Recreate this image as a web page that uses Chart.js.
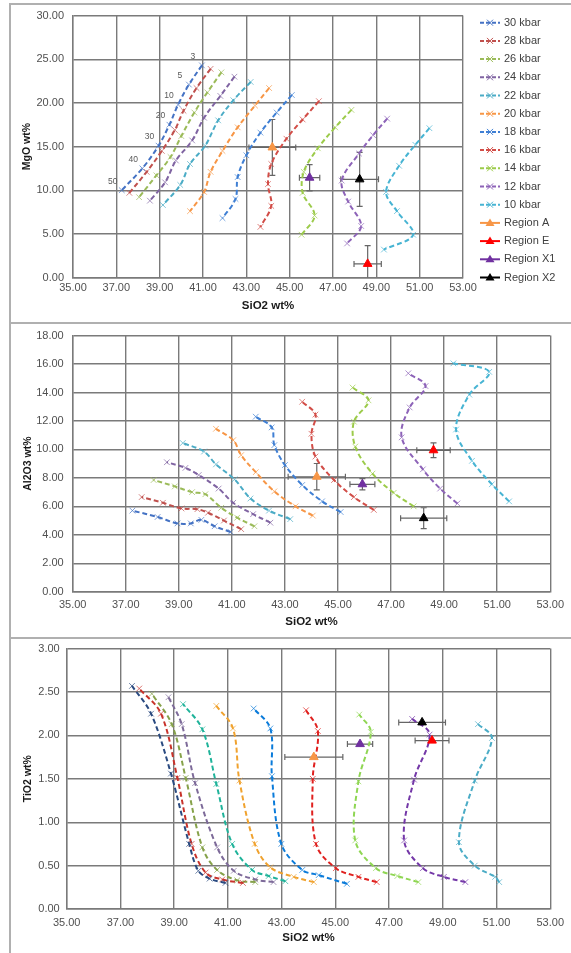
<!DOCTYPE html>
<html lang="en">
<head>
<meta charset="utf-8">
<title>Melt compositions vs SiO2</title>
<style>
  html, body { margin: 0; padding: 0; background: #fff; }
  #wrap { position: relative; width: 571px; height: 953px; overflow: hidden; }
  #wrap canvas { position: absolute; left: 0; }
  .rule { position: absolute; background: #b0b0b0; }
</style>
</head>
<body>
<div id="wrap">
  <canvas id="mgoChart" width="571" height="320" style="top:0px"></canvas>
  <canvas id="alChart" width="571" height="315" style="top:320px"></canvas>
  <canvas id="tiChart" width="571" height="318" style="top:635px"></canvas>
  <div class="rule" style="left:9px;top:3px;width:2px;height:950px"></div>
  <div class="rule" style="left:9px;top:3px;width:562px;height:2px"></div>
  <div class="rule" style="left:9px;top:322px;width:562px;height:2px"></div>
  <div class="rule" style="left:9px;top:637px;width:562px;height:2px"></div>
</div>

<script src="https://cdn.jsdelivr.net/npm/chart.js"></script>
<script>
// ---- data ----
const pressures = ['30 kbar', '28 kbar', '26 kbar', '24 kbar', '22 kbar', '20 kbar',
                   '18 kbar', '16 kbar', '14 kbar', '12 kbar', '10 kbar'];
const meltLabels = ['3', '5', '10', '20', '30', '40', '50'];   // % melting, 30 kbar curve

// SiO2 for the MgO and Al2O3 panels (points ordered 3% -> 50% melting)
const sio2 = [
  [40.95, 40.35, 39.85, 39.45, 38.95, 38.2, 37.25],
  [41.35, 40.7, 40.1, 39.7, 39.1, 38.4, 37.6],
  [41.85, 41.2, 40.6, 40.0, 39.5, 38.85, 38.05],
  [42.45, 41.8, 41.05, 40.5, 39.75, 39.25, 38.55],
  [43.2, 42.4, 41.7, 41.1, 40.4, 39.95, 39.15],
  [44.05, 43.4, 42.6, 41.9, 41.35, 41.05, 40.4],
  [45.1, 44.4, 43.65, 43.0, 42.6, 42.5, 41.9],
  [46.35, 45.6, 44.85, 44.15, 44.0, 44.15, 43.65],
  [47.85, 47.1, 46.3, 45.65, 45.6, 46.15, 45.55],
  [49.5, 48.85, 48.2, 47.4, 47.7, 48.3, 47.65],
  [51.45, 50.8, 50.05, 49.45, 49.95, 50.7, 49.35]
];
const mgo = [
  [24.3, 22.1, 19.8, 17.5, 15.1, 12.5, 10.0],
  [23.9, 21.7, 19.1, 16.9, 14.5, 12.1, 9.7],
  [23.5, 21.2, 18.9, 16.2, 13.8, 11.7, 9.2],
  [23.0, 20.8, 18.3, 15.7, 13.4, 10.9, 8.8],
  [22.4, 20.3, 18.0, 15.1, 13.0, 10.6, 8.3],
  [21.7, 19.7, 17.2, 14.5, 12.1, 9.8, 7.6],
  [20.9, 18.9, 16.6, 14.0, 11.5, 9.0, 6.8],
  [20.2, 18.1, 15.9, 13.0, 10.7, 8.2, 5.8],
  [19.2, 17.2, 14.8, 12.1, 9.7, 7.1, 4.9],
  [18.2, 16.3, 14.2, 11.1, 8.7, 5.9, 3.9],
  [17.1, 15.2, 12.8, 9.8, 7.6, 4.9, 3.2]
];
const al2o3 = [
  [4.2, 4.6, 5.05, 4.8, 4.8, 5.25, 5.7],
  [4.4, 5.0, 5.55, 5.8, 5.85, 6.25, 6.65],
  [4.6, 5.2, 5.9, 6.85, 7.0, 7.4, 7.85],
  [4.85, 5.45, 6.25, 7.25, 8.2, 8.7, 9.1],
  [5.1, 5.7, 6.55, 7.9, 8.95, 9.85, 10.45],
  [5.35, 6.0, 7.05, 8.4, 9.6, 10.65, 11.45],
  [5.6, 6.35, 7.5, 8.9, 10.3, 11.55, 12.3],
  [5.75, 6.65, 7.85, 9.5, 11.1, 12.45, 13.35],
  [6.0, 6.95, 8.3, 10.2, 11.95, 13.45, 14.35],
  [6.2, 7.25, 8.6, 10.85, 12.95, 14.45, 15.35],
  [6.35, 7.55, 9.2, 11.4, 13.85, 15.45, 16.05]
];
// the TiO2 panel was plotted with slightly different SiO2 values
const sio2Ti = [
  [40.91, 40.32, 39.9, 39.56, 38.88, 38.14, 37.43],
  [41.56, 40.79, 40.17, 39.65, 39.12, 38.51, 37.7],
  [42.02, 41.35, 40.6, 40.05, 39.43, 38.91, 38.17],
  [42.7, 42.02, 41.22, 40.6, 39.78, 39.28, 38.79],
  [43.14, 42.52, 41.9, 41.16, 40.57, 40.05, 39.33],
  [44.2, 43.45, 42.58, 42.0, 41.43, 41.19, 40.57],
  [45.43, 44.38, 43.77, 42.99, 42.64, 42.58, 41.96],
  [46.54, 45.86, 45.02, 44.28, 44.16, 44.35, 43.91],
  [48.09, 47.31, 46.51, 45.74, 45.86, 46.32, 45.89],
  [49.84, 49.04, 48.26, 47.56, 47.93, 48.51, 47.86],
  [51.1, 50.95, 50.19, 49.6, 50.19, 50.83, 50.31]
];
const tio2 = [
  [0.30, 0.35, 0.44, 0.75, 1.56, 2.25, 2.57],
  [0.30, 0.34, 0.42, 0.75, 1.51, 2.25, 2.54],
  [0.31, 0.33, 0.45, 0.71, 1.51, 2.13, 2.48],
  [0.31, 0.34, 0.44, 0.71, 1.45, 2.13, 2.44],
  [0.32, 0.38, 0.45, 0.75, 1.44, 2.07, 2.36],
  [0.31, 0.37, 0.48, 0.75, 1.48, 2.08, 2.34],
  [0.29, 0.39, 0.45, 0.75, 1.53, 2.08, 2.31],
  [0.31, 0.37, 0.47, 0.75, 1.50, 2.05, 2.29],
  [0.31, 0.38, 0.47, 0.79, 1.47, 2.04, 2.24],
  [0.31, 0.37, 0.47, 0.79, 1.49, 2.01, 2.19],
  [0.31, 0.37, 0.50, 0.77, 1.48, 1.97, 2.13]
];

const regionNames = ['Region A', 'Region E', 'Region X1', 'Region X2'];
const regionSiO2 = [44.2, 48.6, 45.92, 48.23];
const regionSiO2Err = [1.08, 0.63, 0.47, 0.87];
const regionMgO = [14.9, 1.56, 11.43, 11.24];
const regionMgOErr = [3.2, 2.1, 1.5, 3.1];
const regionAl2O3 = [8.08, 9.94, 7.55, 5.17];
const regionAl2O3Err = [0.93, 0.52, 0.4, 0.73];
const regionTiO2 = [1.75, 1.94, 1.9, 2.15];
const regionTiO2Err = [0, 0, 0, 0];

// ---- colours ----
const curveColors = ['#4472C4', '#C0504D', '#9BBB59', '#8064A2', '#4BACC6', '#F79646',
                     '#3F7FD4', '#D24D47', '#9CCB4A', '#8D63B8', '#47B4D3'];
const curveColorsTi = ['#2A4A80', '#C8332B', '#86A24A', '#7D6A99', '#1FB39A', '#F0A22E',
                       '#0A7BDA', '#E0211F', '#8FD653', '#7438A8', '#4BACC6'];
const regionColors = ['#F79646', '#FF0000', '#7030A0', '#000000'];

const FONT = '"Liberation Sans", Arial, sans-serif';
Chart.defaults.font.family = FONT;
const gridColor = '#7a7a7a';

function curveSets(xs, ys, colors) {
  return pressures.map((p, i) => ({
    label: p,
    data: xs[i].map((x, j) => ({ x: x, y: ys[i][j] })),
    showLine: true,
    borderColor: colors[i],
    backgroundColor: colors[i],
    borderWidth: 2,
    borderDash: [5, 3],
    tension: 0.35,
    pointStyle: 'crossRot',
    pointRadius: 4,
    pointBorderWidth: 1,
    pointBorderColor: colors[i] + 'B0',
    order: 1
  }));
}

function regionSets(ys, yErr) {
  return regionNames.map((r, i) => ({
    label: r,
    data: [{ x: regionSiO2[i], y: ys[i] }],
    errX: regionSiO2Err[i],
    errY: yErr[i],
    showLine: false,
    pointStyle: 'triangle',
    pointRadius: 5,
    borderWidth: 1,
    borderColor: regionColors[i],
    backgroundColor: regionColors[i],
    order: 0
  }));
}

// error bars behind the region markers
const errorBars = {
  id: 'errorBars',
  beforeDatasetsDraw(chart) {
    const { ctx, chartArea: a, scales: { x, y } } = chart;
    ctx.save();
    ctx.beginPath();
    ctx.rect(a.left, a.top, a.width, a.height);
    ctx.clip();
    ctx.strokeStyle = '#666666';
    ctx.lineWidth = 1.2;
    chart.data.datasets.forEach(ds => {
      if (ds.errX === undefined) return;
      const p = ds.data[0];
      const cx = x.getPixelForValue(p.x), cy = y.getPixelForValue(p.y);
      ctx.beginPath();
      if (ds.errX) {
        const l = x.getPixelForValue(p.x - ds.errX), r = x.getPixelForValue(p.x + ds.errX);
        ctx.moveTo(l, cy); ctx.lineTo(r, cy);
        ctx.moveTo(l, cy - 3); ctx.lineTo(l, cy + 3);
        ctx.moveTo(r, cy - 3); ctx.lineTo(r, cy + 3);
      }
      if (ds.errY) {
        const t = y.getPixelForValue(p.y + ds.errY), b = y.getPixelForValue(p.y - ds.errY);
        ctx.moveTo(cx, t); ctx.lineTo(cx, b);
        ctx.moveTo(cx - 3, t); ctx.lineTo(cx + 3, t);
        ctx.moveTo(cx - 3, b); ctx.lineTo(cx + 3, b);
      }
      ctx.stroke();
    });
    ctx.restore();
  }
};

// % melting labels beside the 30 kbar curve
const meltText = {
  id: 'meltText',
  afterDatasetsDraw(chart) {
    const ctx = chart.ctx;
    const meta = chart.getDatasetMeta(0);
    ctx.save();
    ctx.font = '8.5px ' + FONT;
    ctx.fillStyle = '#595959';
    ctx.textAlign = 'center';
    ctx.textBaseline = 'middle';
    meta.data.forEach((pt, j) => ctx.fillText(meltLabels[j], pt.x - 9, pt.y - 9));
    ctx.restore();
  }
};

// legend at the right of the top panel
const sideLegend = {
  id: 'sideLegend',
  afterDraw(chart) {
    const ctx = chart.ctx;
    const x0 = chart.chartArea.right + 17, y0 = 22.7, step = 18.2;
    ctx.save();
    ctx.font = '11px ' + FONT;
    ctx.textBaseline = 'middle';
    chart.data.datasets.forEach((ds, i) => {
      const yy = y0 + i * step, mx = x0 + 10;
      ctx.strokeStyle = ds.borderColor;
      ctx.fillStyle = ds.backgroundColor;
      ctx.lineWidth = 2;
      ctx.setLineDash(ds.showLine ? [4, 2] : []);
      ctx.beginPath(); ctx.moveTo(x0, yy); ctx.lineTo(x0 + 20, yy); ctx.stroke();
      ctx.setLineDash([]);
      ctx.beginPath();
      if (ds.pointStyle === 'triangle') {
        ctx.moveTo(mx, yy - 4.5); ctx.lineTo(mx + 4.5, yy + 3); ctx.lineTo(mx - 4.5, yy + 3);
        ctx.closePath(); ctx.fill();
      } else {
        ctx.lineWidth = 1;
        ctx.moveTo(mx - 3, yy - 3); ctx.lineTo(mx + 3, yy + 3);
        ctx.moveTo(mx + 3, yy - 3); ctx.lineTo(mx - 3, yy + 3);
        ctx.stroke();
      }
      ctx.fillStyle = '#404040';
      ctx.fillText(ds.label, x0 + 24, yy);
    });
    ctx.restore();
  }
};

function panelOptions(cfg) {
  const yLh = cfg.yTitleSize * 1.2, xLh = cfg.xTitleSize * 1.2;
  const padLeft = cfg.yTitleX - yLh / 2;
  const xAxisBottom = cfg.xTitleY + xLh / 2;
  const tickFont = { size: 11 };
  return {
    responsive: false,
    animation: false,
    layout: {
      padding: { left: padLeft, top: cfg.area.top, right: cfg.width - cfg.area.right, bottom: cfg.height - xAxisBottom }
    },
    plugins: { legend: { display: false }, tooltip: { enabled: false } },
    scales: {
      x: {
        type: 'linear', min: 35, max: 53,
        ticks: { stepSize: 2, autoSkip: false, maxRotation: 0, padding: cfg.xTickPad,
                 font: tickFont, color: '#505050', callback: v => v.toFixed(2) },
        grid: { color: gridColor, lineWidth: 1.4, drawTicks: false },
        border: { color: gridColor, width: 1.4 },
        title: { display: true, text: 'SiO2 wt%', color: '#1a1a1a', padding: 0,
                 font: { size: cfg.xTitleSize, weight: 'bold' } },
        afterFit: s => { s.height = xAxisBottom - cfg.area.bottom; }
      },
      y: {
        type: 'linear', min: cfg.yMin, max: cfg.yMax,
        ticks: { stepSize: cfg.yStep, autoSkip: false, padding: cfg.yTickPad,
                 font: tickFont, color: '#505050', callback: v => v.toFixed(2) },
        grid: { color: gridColor, lineWidth: 1.4, drawTicks: false },
        border: { color: gridColor, width: 1.4 },
        title: { display: true, text: cfg.yTitle, color: '#1a1a1a', padding: 0,
                 font: { size: cfg.yTitleSize, weight: 'bold' } },
        afterFit: s => { s.width = cfg.area.left - padLeft; }
      }
    }
  };
}

new Chart(document.getElementById('mgoChart'), {
  type: 'scatter',
  data: { datasets: curveSets(sio2, mgo, curveColors).concat(regionSets(regionMgO, regionMgOErr)) },
  options: panelOptions({
    width: 571, height: 320, area: { left: 73, right: 463, top: 14.7, bottom: 277.5 },
    yTitleX: 27, xTitleY: 306, yTitleSize: 10.5, xTitleSize: 11.5, xTickPad: 4, yTickPad: 9,
    yMin: 0, yMax: 30, yStep: 5, yTitle: 'MgO wt%'
  }),
  plugins: [errorBars, meltText, sideLegend]
});

new Chart(document.getElementById('alChart'), {
  type: 'scatter',
  data: { datasets: curveSets(sio2, al2o3, curveColors).concat(regionSets(regionAl2O3, regionAl2O3Err)) },
  options: panelOptions({
    width: 571, height: 315, area: { left: 72.7, right: 552.7, top: 14, bottom: 271.7 },
    yTitleX: 28, xTitleY: 301.7, yTitleSize: 10.5, xTitleSize: 11.5, xTickPad: 7, yTickPad: 9,
    yMin: 0, yMax: 18, yStep: 2, yTitle: 'Al2O3 wt%'
  }),
  plugins: [errorBars]
});

new Chart(document.getElementById('tiChart'), {
  type: 'scatter',
  data: { datasets: curveSets(sio2Ti, tio2, curveColorsTi).concat(regionSets(regionTiO2, regionTiO2Err)) },
  options: panelOptions({
    width: 571, height: 318, area: { left: 66.7, right: 551.7, top: 10, bottom: 274 },
    yTitleX: 28, xTitleY: 303, yTitleSize: 10.5, xTitleSize: 11.5, xTickPad: 7, yTickPad: 7,
    yMin: 0, yMax: 3, yStep: 0.5, yTitle: 'TiO2 wt%'
  }),
  plugins: [errorBars]
});
</script>
</body>
</html>
